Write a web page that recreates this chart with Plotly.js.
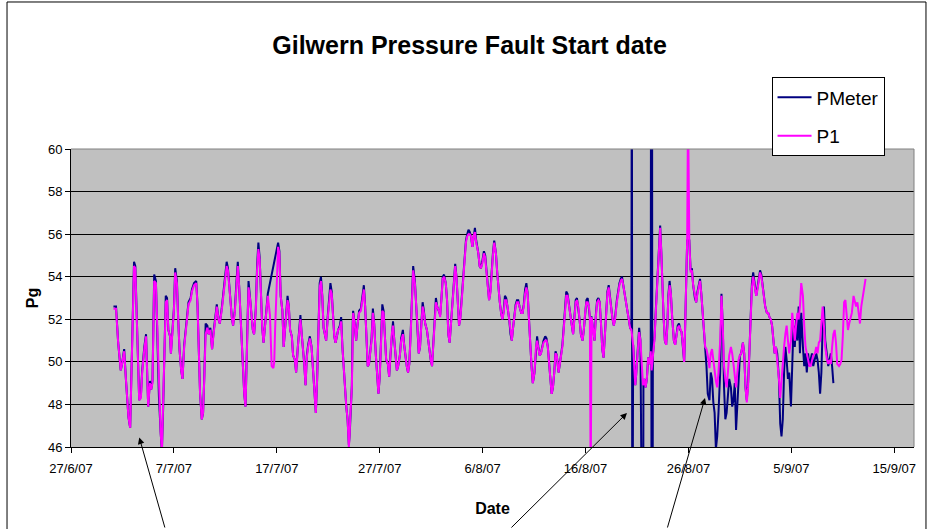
<!DOCTYPE html>
<html><head><meta charset="utf-8">
<script src="https://cdn.plot.ly/plotly-3.0.1.min.js"></script>
<style>html,body{margin:0;padding:0;background:#fff;}#chart{width:928px;height:529px;}</style>
</head><body><div id="chart"></div>
<script>
// sample times (2007, "MM-DD HH")
const times = [
'07-01 03','07-01 09','07-01 14','07-01 20','07-01 23',
'07-02 04','07-02 08','07-02 14','07-02 18','07-02 20','07-02 23',
'07-03 03','07-03 06','07-03 09','07-03 13','07-03 15','07-03 19','07-03 22',
'07-04 03','07-04 07','07-04 09','07-04 12','07-04 16','07-04 19','07-04 22',
'07-05 02','07-05 06','07-05 09','07-05 13','07-05 17','07-05 20','07-05 23',
'07-06 02','07-06 05','07-06 08','07-06 11','07-06 15','07-06 17','07-06 21',
'07-07 00','07-07 03','07-07 07','07-07 10','07-07 13','07-07 17','07-07 20',
'07-08 00','07-08 04','07-08 10','07-08 15','07-08 18','07-08 23',
'07-09 04','07-09 07','07-09 10','07-09 13','07-09 17','07-09 20','07-09 23',
'07-10 02','07-10 06','07-10 09','07-10 13','07-10 17','07-10 20',
'07-11 00','07-11 04','07-11 08','07-11 11','07-11 16','07-11 22',
'07-12 03','07-12 06','07-12 11','07-12 15','07-12 18','07-12 22',
'07-13 02','07-13 05','07-13 08','07-13 11','07-13 14','07-13 17','07-13 20','07-13 23',
'07-14 01','07-14 03','07-14 06','07-14 10','07-14 13','07-14 16','07-14 19','07-14 23',
'07-15 02','07-15 05','07-15 08','07-15 11','07-15 14','07-15 17','07-15 20','07-15 23',
'07-16 03','07-16 08','07-16 12','07-16 16','07-16 18','07-16 20','07-16 22',
'07-17 00','07-17 03','07-17 06','07-17 09','07-17 13','07-17 16','07-17 19','07-17 22',
'07-18 01','07-18 04','07-18 07','07-18 11','07-18 14','07-18 18','07-18 21',
'07-19 01','07-19 04','07-19 07','07-19 10','07-19 13','07-19 16','07-19 19','07-19 22',
'07-20 01','07-20 05','07-20 09','07-20 12','07-20 15','07-20 19','07-20 22',
'07-21 01','07-21 04','07-21 07','07-21 10','07-21 13','07-21 16','07-21 19','07-21 23',
'07-22 02','07-22 05','07-22 08','07-22 11','07-22 14','07-22 17','07-22 20','07-22 23',
'07-23 03','07-23 06','07-23 09','07-23 12','07-23 15','07-23 18','07-23 21',
'07-24 00','07-24 02','07-24 03','07-24 07','07-24 09','07-24 10','07-24 14','07-24 17','07-24 20',
'07-25 00','07-25 04','07-25 07','07-25 11','07-25 14','07-25 17','07-25 20','07-25 23',
'07-26 02','07-26 05','07-26 08','07-26 11','07-26 15','07-26 18','07-26 21',
'07-27 00','07-27 03','07-27 06','07-27 09','07-27 12','07-27 15','07-27 19','07-27 22',
'07-28 01','07-28 04','07-28 07','07-28 10','07-28 13','07-28 16','07-28 19','07-28 23',
'07-29 02','07-29 06','07-29 09','07-29 12','07-29 15','07-29 18','07-29 21',
'07-30 00','07-30 03','07-30 06','07-30 10','07-30 13','07-30 16','07-30 19','07-30 22',
'07-31 01','07-31 04','07-31 07','07-31 10','07-31 14','07-31 17','07-31 20','07-31 23',
'08-01 02','08-01 05','08-01 08','08-01 11','08-01 14','08-01 18','08-01 21',
'08-02 00','08-02 03','08-02 06','08-02 10','08-02 13','08-02 16','08-02 19','08-02 22',
'08-03 01','08-03 05','08-03 08','08-03 11','08-03 14','08-03 17','08-03 20','08-03 23',
'08-04 02','08-04 05','08-04 09','08-04 12','08-04 15','08-04 18','08-04 21',
'08-05 00','08-05 03','08-05 06','08-05 09','08-05 14','08-05 17','08-05 20','08-05 23',
'08-06 03','08-06 06','08-06 09','08-06 12','08-06 15','08-06 18','08-06 21',
'08-07 00','08-07 03','08-07 07','08-07 10','08-07 13','08-07 16','08-07 19','08-07 22',
'08-08 01','08-08 04','08-08 07','08-08 10','08-08 14','08-08 17','08-08 20','08-08 23',
'08-09 02','08-09 05','08-09 08','08-09 11','08-09 14','08-09 18','08-09 21',
'08-10 00','08-10 03','08-10 06','08-10 09','08-10 12','08-10 15','08-10 18','08-10 21',
'08-11 01','08-11 04','08-11 07','08-11 10','08-11 13','08-11 16','08-11 19','08-11 22',
'08-12 02','08-12 05','08-12 08','08-12 11','08-12 14','08-12 17','08-12 20','08-12 23',
'08-13 02','08-13 05','08-13 09','08-13 12','08-13 15','08-13 18','08-13 21',
'08-14 00','08-14 03','08-14 06','08-14 10','08-14 13','08-14 16','08-14 19','08-14 22',
'08-15 01','08-15 04','08-15 07','08-15 10','08-15 13','08-15 17','08-15 20','08-15 23',
'08-16 02','08-16 05','08-16 08','08-16 10','08-16 12','08-16 14','08-16 18','08-16 21',
'08-17 00','08-17 03','08-17 06','08-17 09','08-17 12','08-17 15','08-17 18','08-17 21',
'08-18 00','08-18 03','08-18 06','08-18 09','08-18 12','08-18 15','08-18 18','08-18 21',
'08-19 01','08-19 04','08-19 07','08-19 10','08-19 13','08-19 16','08-19 19','08-19 22',
'08-20 01','08-20 05','08-20 08','08-20 11','08-20 12','08-20 13','08-20 15','08-20 18','08-20 20','08-20 22',
'08-21 02','08-21 05','08-21 08','08-21 09','08-21 11','08-21 14','08-21 15','08-21 17','08-21 20','08-21 23',
'08-22 02','08-22 06','08-22 08','08-22 09','08-22 10','08-22 11','08-22 12','08-22 13','08-22 14','08-22 17','08-22 20','08-22 23',
'08-23 03','08-23 06','08-23 09','08-23 11','08-23 14','08-23 17','08-23 20','08-23 23',
'08-24 01','08-24 04','08-24 07','08-24 10','08-24 14','08-24 17','08-24 20','08-24 23',
'08-25 02','08-25 05','08-25 08','08-25 11','08-25 14','08-25 16','08-25 18','08-25 21','08-25 23',
'08-26 02','08-26 05','08-26 08','08-26 11','08-26 15','08-26 18','08-26 21',
'08-27 00','08-27 03','08-27 06','08-27 09','08-27 12','08-27 15','08-27 18','08-27 21',
'08-28 01','08-28 04','08-28 07','08-28 10','08-28 13','08-28 16','08-28 19','08-28 22',
'08-29 02','08-29 05','08-29 08','08-29 11','08-29 14','08-29 17','08-29 20','08-29 23',
'08-30 03','08-30 06','08-30 09','08-30 12','08-30 15','08-30 18','08-30 21',
'08-31 00','08-31 03','08-31 07','08-31 10','08-31 13','08-31 16','08-31 19','08-31 22',
'09-01 01','09-01 04','09-01 07','09-01 11','09-01 14','09-01 17','09-01 20','09-01 23',
'09-02 02','09-02 05','09-02 08','09-02 11','09-02 15','09-02 18','09-02 21',
'09-03 00','09-03 03','09-03 06','09-03 09','09-03 12','09-03 15','09-03 19','09-03 22',
'09-04 01','09-04 04','09-04 07','09-04 10','09-04 13','09-04 16','09-04 19','09-04 23',
'09-05 02','09-05 05','09-05 08','09-05 11','09-05 14','09-05 17','09-05 20','09-05 23',
'09-06 03','09-06 06','09-06 09','09-06 12','09-06 15','09-06 18','09-06 21',
'09-07 00','09-07 03','09-07 07','09-07 10','09-07 13','09-07 16','09-07 19','09-07 22',
'09-08 01','09-08 04','09-08 07','09-08 11','09-08 14','09-08 17','09-08 20','09-08 23',
'09-09 02','09-09 05','09-09 08','09-09 11','09-09 15','09-09 18','09-09 21',
'09-10 00','09-10 03','09-10 06','09-10 09','09-10 12','09-10 15','09-10 18','09-10 21',
'09-11 01','09-11 04','09-11 07','09-11 10','09-11 13','09-11 16','09-11 19','09-11 22',
'09-12 02','09-12 05'
];

// P1 pressure (null where only the meter has a reading)
const p1 = [
52.5,52.5,50.9,49.6,49.9,
50.5,49.2,47.4,46.9,48.6,51.6,
54.5,54.4,52.0,49.2,48.2,48.3,49.5,
50.6,51.2,49.9,47.9,49.0,48.7,49.0,
53.8,53.7,51.5,48.4,46.7,45.8,47.9,
50.1,52.8,52.9,51.5,51.2,50.4,51.5,
52.4,54.2,53.7,52.0,50.6,49.6,49.2,
50.7,51.6,52.7,52.9,53.3,53.6,
53.7,52.7,50.7,48.5,47.3,47.6,49.3,
51.3,51.6,51.3,51.5,50.6,51.2,
51.8,52.6,52.0,51.8,52.5,53.5,
54.5,54.3,53.0,52.1,51.7,52.3,
53.6,54.5,53.6,52.3,51.5,50.1,48.5,47.9,
49.9,52.0,53.5,52.9,52.3,51.5,51.3,52.4,
54.3,55.3,54.8,52.8,51.6,50.9,51.5,52.0,
53.1,52.2,49.8,49.7,50.0,51.5,52.8,
53.6,55.4,55.1,53.1,52.4,50.7,51.5,52.1,
52.9,52.6,51.5,51.2,50.3,50.1,49.5,
50.7,51.6,52.0,51.3,50.7,49.9,48.9,50.2,
50.7,51.1,50.7,49.6,48.5,47.6,49.2,
52.0,53.5,53.8,53.1,51.6,51.2,51.0,52.1,
52.8,53.4,53.2,52.3,51.2,50.9,51.3,51.5,
51.6,51.9,50.7,49.8,48.5,47.9,47.3,
46.0,46.6,47.3,48.8,51.7,52.3,51.7,51.0,51.7,
52.3,52.4,52.9,53.4,52.6,51.0,49.8,49.9,
50.4,51.0,52.3,51.8,50.3,49.2,48.5,
49.3,51.0,52.4,52.3,51.0,50.1,49.9,49.3,
50.3,51.3,51.7,51.0,50.3,49.6,49.8,50.3,
51.0,51.3,50.8,50.1,49.8,49.5,49.9,
51.2,53.1,54.3,53.7,52.8,51.7,50.4,50.7,
51.7,52.6,52.3,51.8,51.5,51.0,50.7,50.1,
49.8,50.8,52.3,52.8,52.6,52.4,52.1,
52.9,53.9,54.0,53.7,52.9,51.3,50.9,51.7,
52.6,53.5,54.5,54.0,52.8,51.7,52.0,52.9,
53.7,54.5,55.6,55.9,56.0,56.0,55.9,
55.4,55.9,56.1,55.6,55.1,54.5,54.4,54.6,
55.1,54.9,54.2,53.5,52.9,53.2,54.2,
55.0,55.6,55.1,54.2,53.4,52.8,52.3,52.0,
52.3,52.9,52.9,52.6,52.0,51.3,51.0,51.6,
52.1,52.6,52.8,52.8,52.6,52.3,52.3,
52.6,53.2,53.5,53.2,52.3,50.9,49.8,49.0,
49.5,50.6,51.0,50.7,50.3,50.4,50.7,50.9,
51.0,51.0,50.7,50.1,49.2,48.5,48.8,49.5,
50.4,50.3,49.5,49.9,50.4,50.7,51.5,
52.5,53.1,53.1,52.5,52.1,51.7,51.3,52.0,
52.8,52.9,52.6,52.0,51.3,51.0,51.5,52.3,
52.8,52.8,52.6,52.1,44.0,52.1,51.5,51.0,
52.1,52.8,52.9,52.8,51.8,50.6,50.2,51.3,
52.4,53.2,53.5,53.0,52.4,52.0,51.7,52.0,
52.8,53.3,53.6,53.8,53.9,53.6,53.2,52.9,
52.5,52.0,51.6,51.5,null,null,50.8,49.6,48.9,49.4,
50.8,51.4,51.0,null,49.6,48.9,null,49.2,48.8,49.2,
50.2,49.9,50.5,null,49.6,null,null,null,50.5,51.1,52.4,53.6,
55.0,56.3,55.0,53.4,52.1,51.0,50.8,51.7,
53.0,53.6,53.2,52.1,51.0,50.8,51.3,51.6,
51.7,51.5,51.4,50.8,50.0,51.4,53.6,55.7,62.0,
55.7,54.2,54.3,53.6,53.0,52.8,53.2,
53.6,53.8,53.2,52.4,51.4,50.7,50.6,50.3,
49.7,50.4,50.6,50.1,49.5,49.1,48.8,49.5,
51.0,53.1,51.7,49.8,49.2,48.8,49.5,50.3,
50.7,50.4,49.9,49.2,48.8,49.5,50.1,
50.3,50.4,50.9,50.4,48.8,48.1,48.8,50.4,
52.0,53.5,54.0,53.5,53.1,53.4,53.8,54.2,
54.0,53.5,53.1,52.6,52.3,52.3,52.1,
52.0,51.7,51.0,50.4,50.7,50.1,49.2,48.3,
49.2,49.8,50.7,51.3,51.7,51.0,50.4,51.0,
52.3,51.7,51.0,51.7,52.3,52.0,52.6,53.7,
53.1,51.7,50.7,50.4,50.1,49.8,49.8,
50.1,50.3,50.4,50.7,50.4,50.9,51.0,52.0,
52.6,51.7,50.7,50.1,49.9,50.1,49.9,50.7,
51.3,51.5,50.9,49.9,49.8,49.9,50.1,
51.2,52.8,52.9,52.0,51.5,51.8,52.0,52.3,
53.1,52.9,52.6,52.8,52.1,51.8,52.6,53.1,
53.5,53.9
];

// PMeter pressure (null where the meter has no reading); ends 9/9/07
const pmeter = [
52.6,52.6,50.9,49.6,49.9,
50.6,49.2,47.4,46.9,48.7,51.8,
54.7,54.5,52.0,49.2,48.2,48.4,49.6,
50.7,51.3,49.9,47.9,49.1,48.7,49.1,
54.1,53.8,51.5,48.4,46.7,45.8,47.9,
50.2,53.1,53.0,51.5,51.2,50.4,51.6,
52.5,54.4,53.8,52.0,50.6,49.6,49.2,
50.8,51.7,52.8,53.0,53.4,53.7,
53.8,52.7,50.7,48.5,47.3,47.6,49.4,
51.8,51.7,51.3,51.6,50.6,51.3,
51.9,52.7,52.0,51.8,52.6,53.6,
54.7,54.4,53.0,52.1,51.7,52.4,
53.8,54.7,53.6,52.3,51.5,50.1,48.5,47.9,
49.9,52.1,53.8,52.9,52.3,51.5,51.3,52.5,
54.5,55.6,54.9,52.8,51.6,50.9,51.5,52.1,
53.2,null,null,null,null,null,null,
null,55.6,55.2,53.1,52.4,50.7,51.5,52.2,
53.1,52.6,51.5,51.2,50.3,50.1,49.5,
50.7,51.7,52.2,51.3,50.7,49.9,48.9,50.3,
50.8,51.2,50.7,49.6,48.5,47.6,49.2,
52.1,53.7,54.0,53.1,51.6,51.2,51.0,52.2,
52.9,53.7,53.3,52.3,51.2,50.9,51.3,51.5,
51.7,52.1,50.7,49.8,48.5,47.9,47.3,
46.1,46.6,47.3,48.9,51.8,52.4,51.7,51.0,51.7,
52.4,52.5,53.0,53.6,52.6,51.0,49.8,49.9,
50.4,51.1,52.5,51.8,50.3,49.2,48.5,
49.3,51.1,52.7,52.4,51.0,50.1,49.9,49.3,
50.3,51.4,51.9,51.0,50.3,49.6,49.8,50.3,
51.1,51.5,50.8,50.1,49.8,49.5,49.9,
51.3,53.3,54.5,53.8,52.8,51.7,50.4,50.7,
51.8,52.8,52.4,51.8,51.5,51.0,50.7,50.1,
49.8,50.9,52.4,53.0,52.6,52.4,52.2,
53.0,54.0,54.1,53.7,52.9,51.3,50.9,51.8,
52.7,53.6,54.6,54.0,52.8,51.7,52.1,53.0,
53.8,54.6,55.7,56.0,56.2,56.1,55.9,
55.4,56.0,56.3,55.7,55.1,54.5,54.4,54.7,
55.2,55.0,54.2,53.5,52.9,53.3,54.3,
55.1,55.7,55.1,54.2,53.4,52.8,52.3,52.0,
52.4,53.1,53.0,52.6,52.0,51.3,51.0,51.6,
52.2,52.7,52.9,52.9,52.6,52.3,52.3,
52.7,53.4,53.7,53.2,52.3,50.9,49.8,49.0,
49.5,50.7,51.2,50.7,50.3,50.4,50.8,51.0,
51.2,51.1,50.7,50.1,49.2,48.5,48.8,49.5,
50.5,50.3,49.5,49.9,50.4,50.8,51.6,
52.6,53.3,53.2,52.5,52.1,51.7,51.3,52.0,
52.9,53.0,52.6,52.0,51.3,51.0,51.5,52.4,
52.9,53.0,52.6,52.1,null,52.1,51.5,51.0,
52.2,52.9,53.0,52.8,51.8,50.6,50.2,51.3,
52.5,53.3,53.6,53.0,52.4,52.0,51.7,52.1,
52.9,53.4,53.7,53.9,54.0,53.6,53.2,52.9,
52.5,52.0,51.6,51.5,70,35,50.8,49.6,48.9,49.4,
50.9,51.6,51.0,35,35,35,49.0,49.2,48.8,49.2,
50.2,49.9,50.5,70,35,70,35,50.3,50.5,51.2,52.5,53.7,
55.1,56.4,55.0,53.4,52.1,51.0,50.8,51.8,
53.1,53.8,53.2,52.1,51.0,50.8,51.3,51.7,
51.8,51.5,51.4,50.8,50.0,51.4,53.6,55.7,null,
55.7,54.3,54.4,53.6,53.0,52.8,53.3,
53.7,53.9,53.2,52.4,51.4,50.6,49.8,48.5,
48.2,49.5,49.2,48.1,47.6,45.9,46.5,47.6,
49.5,53.2,51.7,48.8,47.3,47.6,48.5,49.2,
48.8,47.9,48.2,49.0,46.8,48.2,49.6,
50.3,50.4,50.9,50.4,48.8,48.2,49.0,50.4,
52.0,53.7,54.2,53.5,53.1,53.5,53.9,54.3,
54.1,53.5,53.1,52.6,52.3,52.3,52.1,
52.0,51.7,51.0,50.4,50.7,50.4,49.2,47.1,
46.5,47.3,49.5,50.7,50.1,49.2,49.5,47.9,
49.8,51.7,50.7,52.0,51.0,52.6,50.4,52.3,
50.7,49.8,50.4,49.5,50.4,49.8,50.1,
50.4,49.8,50.1,50.4,50.1,49.5,48.5,49.5,
51.7,52.6,51.0,50.1,49.8,50.1,50.4,49.8,
49.0
];

const tickDates = ['2007-06-27','2007-07-07','2007-07-17','2007-07-27','2007-08-06','2007-08-16','2007-08-26','2007-09-05','2007-09-15'];
const tickLabels = ['27/6/07','7/7/07','17/7/07','27/7/07','6/8/07','16/8/07','26/8/07','5/9/07','15/9/07'];
const yTicks = [46,48,50,52,54,56,58,60];

const x = times.map(s => '2007-' + s + ':00');
const FONT = 'Liberation Sans, Arial, sans-serif';

const traces = [
  {x: x.slice(0, pmeter.length), y: pmeter, type: 'scatter', mode: 'lines', name: 'PMeter',
   legendgroup: 'a', connectgaps: true, line: {color: '#000080', width: 2}},
  {x: x, y: p1, type: 'scatter', mode: 'lines', name: 'P1',
   legendgroup: 'b', connectgaps: true, line: {color: '#FF00FF', width: 2}}
];

const arrowBase = {xref: 'paper', yref: 'paper', text: '', showarrow: true,
  arrowhead: 2, arrowsize: 1.3, arrowwidth: 1, arrowcolor: '#000'};

const layout = {
  width: 928, height: 529,
  margin: {l: 71, r: 14, t: 149, b: 82},
  paper_bgcolor: '#ffffff', plot_bgcolor: '#C0C0C0',
  font: {family: FONT, color: '#000'},
  title: {text: 'Gilwern Pressure Fault Start date', font: {family: FONT, size: 25, weight: 700, color: '#000'},
          x: 0.506, xanchor: 'center', xref: 'container', y: 0.915, yanchor: 'middle', yref: 'container'},
  xaxis: {type: 'date', range: ['2007-06-27 00:00', '2007-09-16 22:00'],
          tickvals: tickDates, ticktext: tickLabels, tickangle: 0,
          ticks: 'outside', ticklen: 5, tickcolor: '#000', tickwidth: 1, ticklabelstandoff: 4,
          showline: true, linecolor: '#000', linewidth: 1, showgrid: false, zeroline: false,
          tickfont: {size: 13, color: '#000'},
          title: {text: 'Date', font: {size: 16, weight: 700, color: '#000'}, standoff: 28}},
  yaxis: {range: [46, 60], tickvals: yTicks, ticks: 'outside', ticklen: 5, tickcolor: '#000',
          showline: true, linecolor: '#000', linewidth: 1,
          showgrid: true, gridcolor: '#000', gridwidth: 1, zeroline: false,
          tickfont: {size: 13, color: '#000'},
          title: {text: 'Pg', font: {size: 16, weight: 700, color: '#000'}, standoff: 5}},
  legend: {x: 0.831, y: 1.2406, xanchor: 'left', yanchor: 'top', bgcolor: '#ffffff',
           bordercolor: '#000', borderwidth: 1, font: {size: 19, color: '#000'},
           traceorder: 'grouped', tracegroupgap: 11, itemwidth: 34},
  showlegend: true,
  shapes: [
    {type: 'line', xref: 'paper', yref: 'paper', x0: 0, x1: 1, y0: 1, y1: 1, line: {color: '#808080', width: 1}},
    {type: 'line', xref: 'paper', yref: 'paper', x0: 1, x1: 1, y0: 0, y1: 1, line: {color: '#808080', width: 1}},
    {type: 'rect', xref: 'paper', yref: 'paper', x0: -0.0759, x1: 1.0142, y0: -0.35, y1: 1.4933,
     line: {color: '#000', width: 1}, fillcolor: 'rgba(0,0,0,0)'}
  ],
  annotations: [
    Object.assign({x: 0.0810, y: 0.0319, ax: 26, ay: 102}, arrowBase),
    Object.assign({x: 0.6595, y: 0.1141, ax: -117, ay: 127}, arrowBase),
    Object.assign({x: 0.7521, y: 0.1644, ax: -38, ay: 142}, arrowBase)
  ]
};

Plotly.newPlot('chart', traces, layout, {displayModeBar: false, staticPlot: true});
</script>
</body></html>
